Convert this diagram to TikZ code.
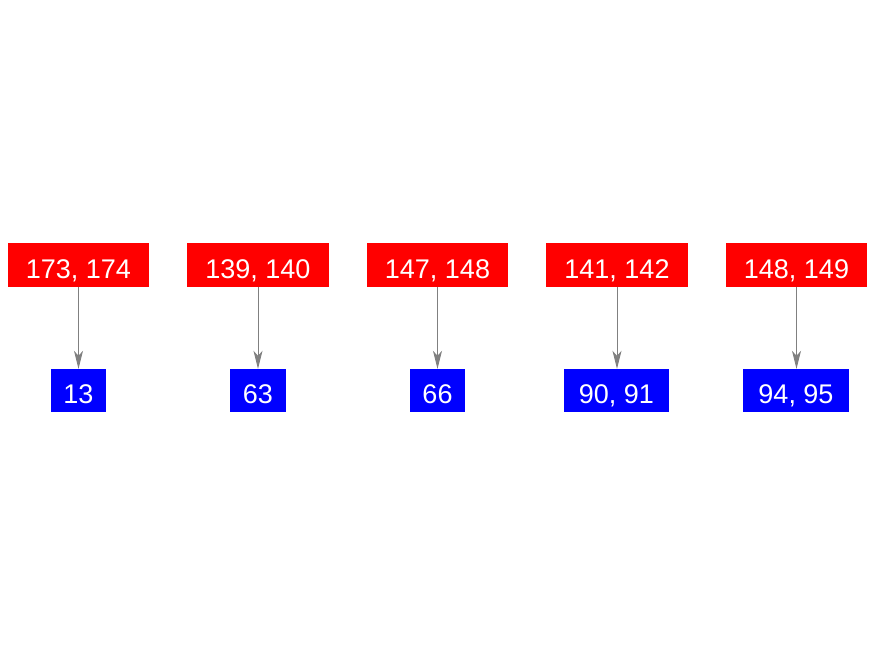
\documentclass[tikz,border=0pt]{standalone}
\usepackage{fontspec}
\setmainfont{Liberation Sans}
\usetikzlibrary{arrows.meta}
\begin{document}
\begin{tikzpicture}[x=1pt,y=-1pt,
  redbox/.style={fill=red,text=white,inner sep=0pt,minimum height=44pt,text height=26pt,text depth=0pt,font=\fontsize{27}{30}\selectfont},
  bluebox/.style={fill=blue,text=white,inner sep=0pt,minimum height=43pt,text height=25pt,text depth=0pt,font=\fontsize{27}{30}\selectfont},
  link/.style={draw=gray,line width=1pt,-{Stealth[length=18pt,width=9pt,inset=5pt]}}]
\useasboundingbox (0,0) rectangle (875,656);
\node[redbox,minimum width=141pt] (r1) at (78.5,265) {173, 174};
\node[redbox,minimum width=142pt] (r2) at (258,265) {139, 140};
\node[redbox,minimum width=141pt] (r3) at (437.5,265) {147, 148};
\node[redbox,minimum width=142pt] (r4) at (617,265) {141, 142};
\node[redbox,minimum width=141pt] (r5) at (796.5,265) {148, 149};
\node[bluebox,minimum width=55pt] (b1) at (78.5,390.5) {13};
\node[bluebox,minimum width=56pt] (b2) at (258,390.5) {63};
\node[bluebox,minimum width=55pt] (b3) at (437.5,390.5) {66};
\node[bluebox,minimum width=105pt] (b4) at (616.5,390.5) {90, 91};
\node[bluebox,minimum width=106pt] (b5) at (796,390.5) {94, 95};
\draw[link] (r1.south) -- (b1.north);
\draw[link] (r2.south) -- (b2.north);
\draw[link] (r3.south) -- (b3.north);
\draw[link] (r4.south) -- (r4.south |- b4.north);
\draw[link] (r5.south) -- (r5.south |- b5.north);
\end{tikzpicture}
\end{document}
